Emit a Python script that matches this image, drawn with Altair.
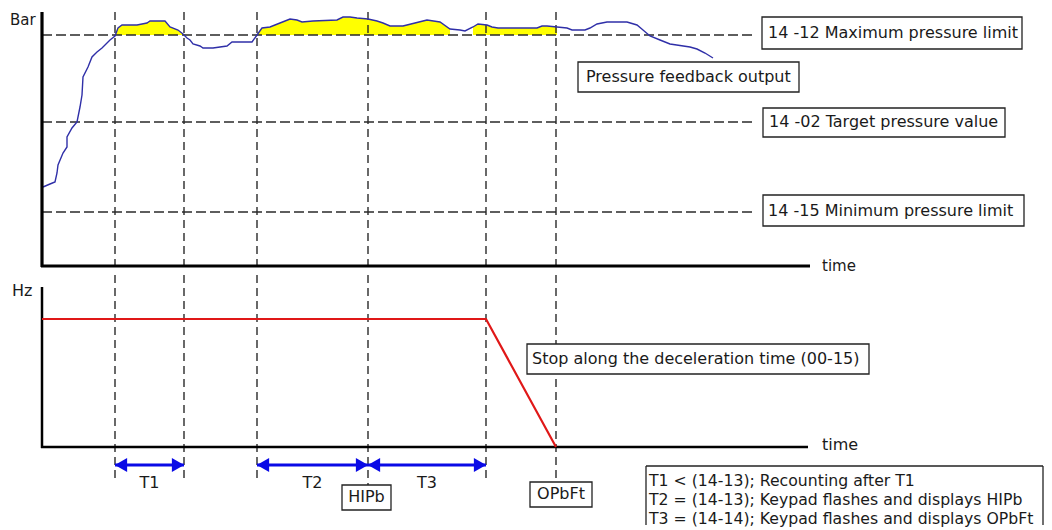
import altair as alt
import pandas as pd

# ---------------- data (diagram units: time ticks from the vertical axis) ----------------
curve_time = [1, 8, 13, 15, 16, 21, 25, 25, 30, 35, 38, 40, 41, 46, 50, 55, 60, 68, 73, 76, 80,
              95, 105, 108, 123, 128, 136, 141, 145, 148, 151, 158, 161, 171, 185, 190, 210, 215,
              220, 228, 238, 248, 255, 260, 271, 295, 301, 308, 315, 326, 335, 341, 348, 361, 373,
              385, 398, 408, 418, 423, 431, 436, 445, 450, 456, 475, 495, 500, 505, 515, 525, 530,
              543, 548, 555, 565, 585, 595, 601, 608, 618, 628, 648, 655, 663, 671]
curve_pressure = [79, 82, 84, 93, 101, 113, 119, 129, 138, 144, 159, 171, 189, 199, 209, 214, 218,
                  226, 230, 238, 241, 241, 243, 245, 245, 239, 236, 232, 228, 226, 222, 220, 218,
                  218, 220, 224, 224, 231, 238, 239, 243, 247, 246, 244, 245, 246, 249, 249, 248,
                  247, 245, 243, 240, 240, 243, 246, 244, 237, 236, 235, 239, 242, 241, 239, 238,
                  238, 238, 240, 240, 239, 238, 236, 236, 238, 242, 244, 244, 241, 236, 230, 226,
                  222, 219, 217, 213, 208]

limit_labels = ["14 -12 Maximum pressure limit", "14 -02 Target pressure value",
                "14 -15 Minimum pressure limit"]
limit_values = [231, 144, 54]
max_limit = 231

fill_spans = [(73, 145), (210, 408), (431, 515)]   # stretches shaded above the maximum limit

marker_times = [73, 142, 215, 326, 444, 514]
marker_ends = [-33, -33, -33, -38, -33, -35]

freq_time = [0, 444, 514]
freq_hz = [128, 128, 0]

interval_names = ["T1", "T2", "T3"]
interval_start = [73, 215, 326]
interval_end = [142, 326, 444]

legend_lines = ["T1 < (14-13); Recounting after T1",
                "T2 = (14-13); Keypad flashes and displays HIPb",
                "T3 = (14-14); Keypad flashes and displays OPbFt"]

# ---------------- tables ----------------
curve = pd.DataFrame({"t": curve_time, "p": curve_pressure})
rows = []
for k, (a, b) in enumerate(fill_spans):
    for t, p in zip(curve_time, curve_pressure):
        if a <= t <= b:
            rows.append({"t": t, "p": max(p, max_limit), "seg": k, "base": max_limit})
fill = pd.DataFrame(rows)
limits = pd.DataFrame({"label": limit_labels, "level": limit_values, "t0": 0, "t1": 713})
markers = pd.DataFrame({"t": marker_times, "end": marker_ends, "top1": 254, "bot1": -6, "top2": 172})
freq = pd.DataFrame({"t": freq_time, "hz": freq_hz})
intervals = pd.DataFrame({"name": interval_names, "start": interval_start, "end": interval_end})
intervals["mid"] = (intervals["start"] + intervals["end"]) / 2
intervals["ay"] = -18
intervals["ty"] = -36
legend = pd.DataFrame({"line": legend_lines, "row": [-34, -53, -72], "tx": 607})

FONT = "DejaVu Sans"
TXT = "#1a1a1a"
FS = 16
W = 1036
xs = alt.Scale(domain=[-34, 1002], nice=False, zero=False)
X = lambda f: alt.X(f, scale=xs, axis=None)

# ---------------- pressure panel ----------------
ys1 = alt.Scale(domain=[-6, 258], nice=False, zero=False)
Y1 = lambda f: alt.Y(f, scale=ys1, axis=None)

axes1 = pd.DataFrame({"x1": [0, -1], "x2": [0, 768], "y1": [254, 0], "y2": [-1, 0]})

p_fill = alt.Chart(fill).mark_area(color="#ffff00", opacity=1, interpolate="linear").encode(
    x=X("t:Q"), y=Y1("p:Q"), y2="base:Q", detail="seg:N")
p_limits = alt.Chart(limits).mark_rule(color="#2a2a2a", strokeWidth=1.4, strokeDash=[10, 4]).encode(
    x=X("t0:Q"), x2="t1:Q", y=Y1("level:Q"))
p_vert = alt.Chart(markers).mark_rule(color="#2a2a2a", strokeWidth=1.4, strokeDash=[8, 5]).encode(
    x=X("t:Q"), y=Y1("top1:Q"), y2="bot1:Q")
p_curve = alt.Chart(curve).mark_line(color="#2f2fa8", strokeWidth=1.4).encode(
    x=X("t:Q"), y=Y1("p:Q"))
p_axes = alt.Chart(axes1).mark_rule(color="black", strokeWidth=3.2).encode(
    x=X("x1:Q"), x2="x2:Q", y=Y1("y1:Q"), y2="y2:Q")

label_boxes = pd.DataFrame({
    "text": ["14 -12 Maximum pressure limit", "Pressure feedback output",
             "14 -02 Target pressure value", "14 -15 Minimum pressure limit"],
    "x1": [720, 536, 721, 721], "x2": [980, 757, 963, 982],
    "y1": [249, 204, 158, 71], "y2": [217, 174, 129, 40],
    "tx": [726, 544, 727, 726], "ty": [233, 189, 144, 55]})
p_boxes = alt.Chart(label_boxes).mark_rect(fill="white", stroke="#222222", strokeWidth=1.3).encode(
    x=X("x1:Q"), x2="x2:Q", y=Y1("y1:Q"), y2="y2:Q")
p_box_text = alt.Chart(label_boxes).mark_text(
    align="left", baseline="middle", font=FONT, fontSize=FS, color=TXT).encode(
    x=X("tx:Q"), y=Y1("ty:Q"), text="text:N")
p_titles = alt.Chart(pd.DataFrame({"text": ["Bar", "time"], "tx": [-32, 780], "ty": [246, 0]})).mark_text(
    align="left", baseline="middle", font=FONT, fontSize=15, color=TXT).encode(
    x=X("tx:Q"), y=Y1("ty:Q"), text="text:N")

top = alt.layer(p_fill, p_limits, p_vert, p_curve, p_axes, p_boxes, p_box_text,
                p_titles).properties(width=W, height=264)

# ---------------- frequency panel ----------------
ys2 = alt.Scale(domain=[-78, 172], nice=False, zero=False)
Y2 = lambda f: alt.Y(f, scale=ys2, axis=None)

axes2 = pd.DataFrame({"x1": [0, -1], "x2": [0, 766], "y1": [160, 0], "y2": [-1, 0]})

f_vert = alt.Chart(markers).mark_rule(color="#2a2a2a", strokeWidth=1.4, strokeDash=[8, 5]).encode(
    x=X("t:Q"), y=Y2("top2:Q"), y2="end:Q")
f_axes = alt.Chart(axes2).mark_rule(color="black", strokeWidth=2.5).encode(
    x=X("x1:Q"), x2="x2:Q", y=Y2("y1:Q"), y2="y2:Q")
f_line = alt.Chart(freq).mark_line(color="#e01818", strokeWidth=2.2).encode(
    x=X("t:Q"), y=Y2("hz:Q"))

f_arrow = alt.Chart(intervals).mark_rule(color="#0a0ae6", strokeWidth=3).encode(
    x=X("start:Q"), x2="end:Q", y=Y2("ay:Q"))
f_head_l = alt.Chart(intervals).mark_point(
    shape="triangle-left", filled=True, size=200, opacity=1, color="#0a0ae6", xOffset=6).encode(
    x=X("start:Q"), y=Y2("ay:Q"))
f_head_r = alt.Chart(intervals).mark_point(
    shape="triangle-right", filled=True, size=200, opacity=1, color="#0a0ae6", xOffset=-6).encode(
    x=X("end:Q"), y=Y2("ay:Q"))
f_interval_text = alt.Chart(intervals).mark_text(
    align="center", baseline="middle", font=FONT, fontSize=FS, color=TXT).encode(
    x=X("mid:Q"), y=Y2("ty:Q"), text="name:N")

f_labels = pd.DataFrame({
    "text": ["HIPb", "OPbFt"],
    "x1": [300, 488], "x2": [349, 550],
    "y1": [-38, -35], "y2": [-63, -60],
    "tx": [324.5, 519], "ty": [-50, -47]})
f_boxes = alt.Chart(f_labels).mark_rect(fill="white", stroke="#222222", strokeWidth=1.3).encode(
    x=X("x1:Q"), x2="x2:Q", y=Y2("y1:Q"), y2="y2:Q")
f_box_text = alt.Chart(f_labels).mark_text(
    align="center", baseline="middle", font=FONT, fontSize=FS, color=TXT).encode(
    x=X("tx:Q"), y=Y2("ty:Q"), text="text:N")

stop_label = pd.DataFrame({"text": ["Stop along the deceleration time (00-15)"],
                           "x1": [485], "x2": [827], "y1": [103], "y2": [73],
                           "tx": [490], "ty": [88]})
f_stop_box = alt.Chart(stop_label).mark_rect(fill="white", stroke="#222222", strokeWidth=1.3).encode(
    x=X("x1:Q"), x2="x2:Q", y=Y2("y1:Q"), y2="y2:Q")
f_stop_text = alt.Chart(stop_label).mark_text(
    align="left", baseline="middle", font=FONT, fontSize=FS, color=TXT).encode(
    x=X("tx:Q"), y=Y2("ty:Q"), text="text:N")

f_titles = alt.Chart(pd.DataFrame({"text": ["Hz", "time"], "tx": [-30, 780], "ty": [156, 2]})).mark_text(
    align="left", baseline="middle", font=FONT, fontSize=FS, color=TXT).encode(
    x=X("tx:Q"), y=Y2("ty:Q"), text="text:N")

legend_frame = pd.DataFrame({"x1": [604, 604, 1001], "x2": [1001, 604, 1001],
                             "y1": [-19, -19, -19], "y2": [-19, -78, -78]})
f_legend_frame = alt.Chart(legend_frame).mark_rule(color="#222222", strokeWidth=1.3).encode(
    x=X("x1:Q"), x2="x2:Q", y=Y2("y1:Q"), y2="y2:Q")
f_legend_text = alt.Chart(legend).mark_text(
    align="left", baseline="middle", font=FONT, fontSize=15.7, color=TXT).encode(
    x=X("tx:Q"), y=Y2("row:Q"), text="line:N")

bottom = alt.layer(f_vert, f_axes, f_line, f_arrow, f_head_l, f_head_r, f_interval_text,
                   f_boxes, f_box_text, f_stop_box, f_stop_text, f_titles, f_legend_frame,
                   f_legend_text).properties(width=W, height=250)

chart = alt.vconcat(top, bottom, spacing=0).properties(padding=0).configure_view(
    stroke=None).configure_concat(spacing=0)

chart.save("out.html", embed_options={"renderer": "svg", "actions": False})
